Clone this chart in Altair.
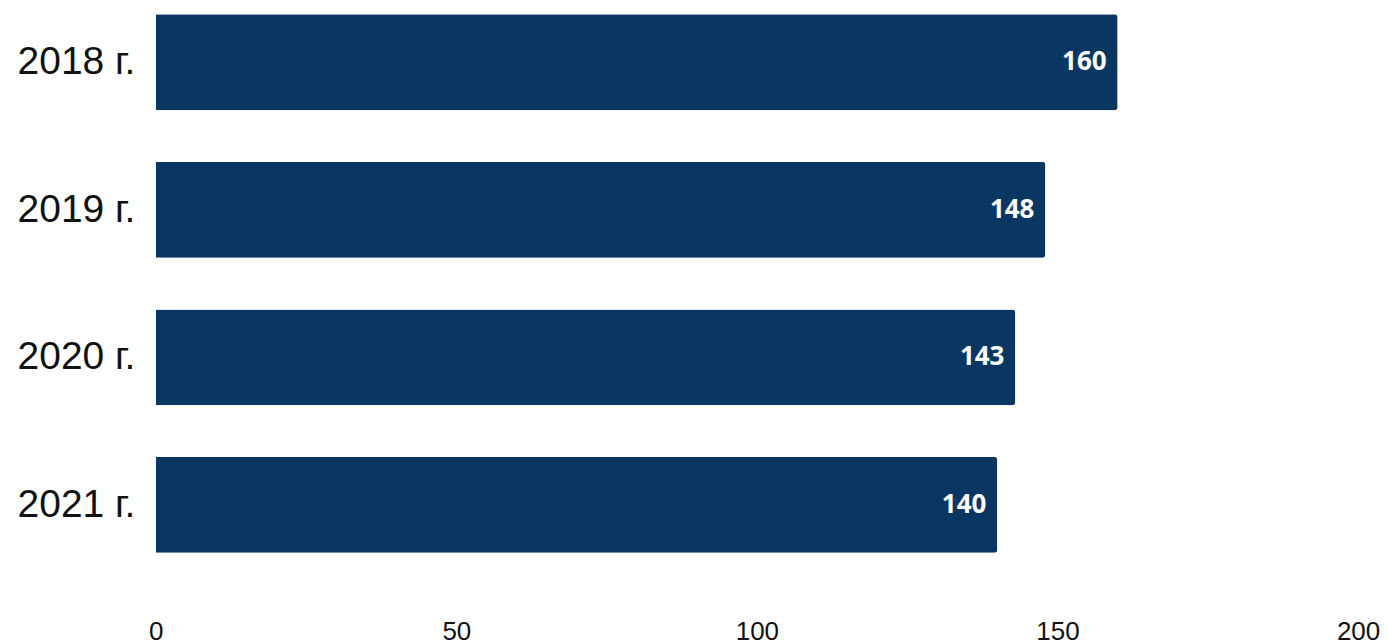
import altair as alt
import pandas as pd

years = ["2018 г.", "2019 г.", "2020 г.", "2021 г."]
values = [160, 148, 143, 140]

df = pd.DataFrame({"year": years, "value": values})

y_enc = alt.Y("year:N", sort=years, title=None,
              scale=alt.Scale(paddingInner=0.35, paddingOuter=0.04),
              axis=alt.Axis(labelFont="Liberation Sans", labelFontSize=39, labelColor="#111111",
                            labelPadding=21, ticks=False, tickSize=0, domain=False, grid=False))
x_enc = alt.X("value:Q", title=None,
              scale=alt.Scale(domain=[0, 200], nice=False),
              axis=alt.Axis(values=[0, 50, 100, 150, 200], labelFont="Liberation Sans",
                            labelFontSize=26, labelColor="#111111", labelPadding=60,
                            ticks=False, tickSize=0, domain=False, grid=False,
                            labelFlush=False))

bars = alt.Chart(df).mark_bar(color="#0a3761", cornerRadiusTopRight=3, cornerRadiusBottomRight=3).encode(
    x=x_enc, y=y_enc)

labels = alt.Chart(df).mark_text(align="right", baseline="middle", dx=-11, color="white",
                                 font="Open Sans", fontWeight="bold", fontSize=26).encode(
    x=alt.X("value:Q"), y=alt.Y("year:N", sort=years), text=alt.Text("value:Q"))

chart = alt.layer(bars, labels, view=alt.ViewBackground(stroke="transparent", strokeWidth=0)).properties(
    width=1204, height=551,
    padding={"left": 9, "top": 0, "right": 0, "bottom": 0},
).configure_view(
    strokeWidth=0, stroke="transparent"
).configure_axis(grid=False, domain=False).configure(background="white")

chart.save("out.html", embed_options={"renderer": "svg", "actions": False})
